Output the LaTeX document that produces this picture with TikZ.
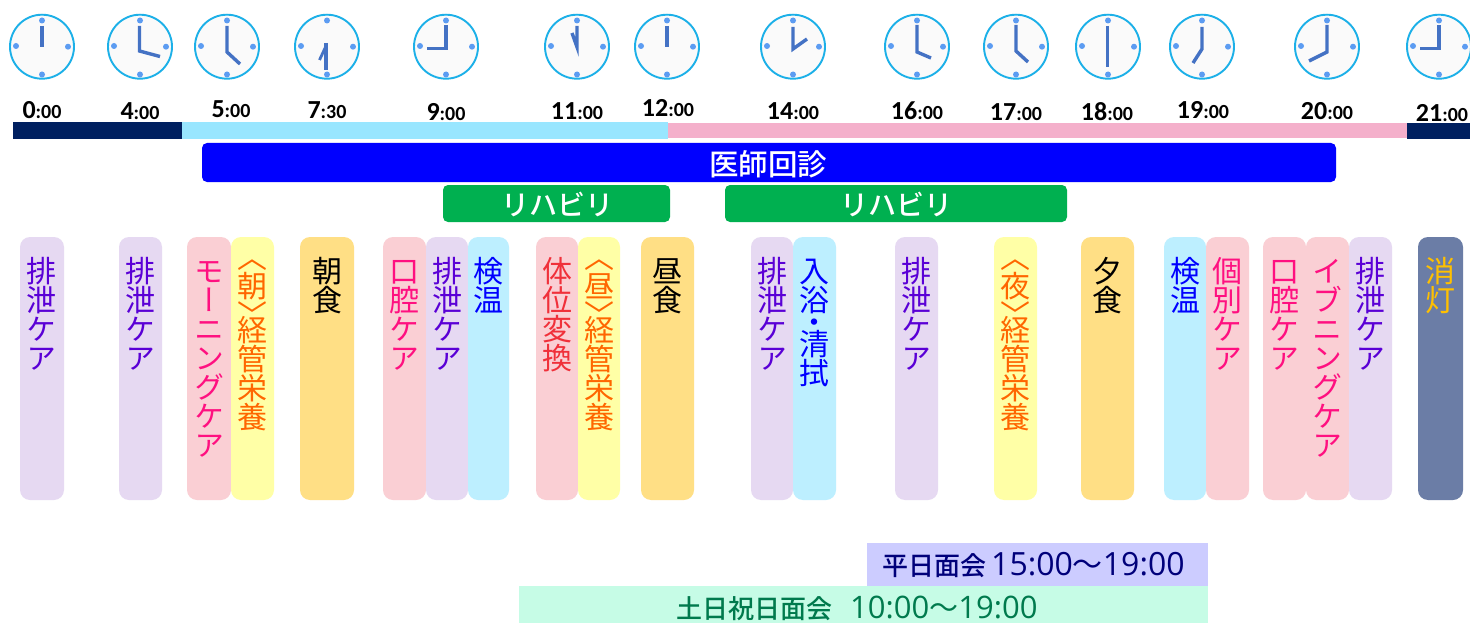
\documentclass[tikz,border=0pt]{standalone}
\usepackage{fontspec}
\setmainfont{Carlito}
\newfontfamily\jp{Noto Sans CJK JP}
\newfontfamily\jpv[RawFeature=+vert]{Noto Sans CJK JP}
\newfontfamily\jpm{Noto Sans CJK JP Medium}
\newfontfamily\dig{Open Sans}
\definecolor{ringc}{HTML}{1CB0E8}
\definecolor{dotc}{HTML}{5C9CF2}
\definecolor{handc}{HTML}{4472C4}
\definecolor{nightc}{HTML}{002060}
\definecolor{dayc}{HTML}{99E6FF}
\definecolor{evec}{HTML}{F4B0CB}
\definecolor{purbg}{HTML}{E6D9F2}
\definecolor{purtx}{HTML}{5A00D6}
\definecolor{pinkbg}{HTML}{FACFD4}
\definecolor{pinktx}{HTML}{FF1080}
\definecolor{yelbg}{HTML}{FFFFA6}
\definecolor{yeltx}{HTML}{FF6600}
\definecolor{orabg}{HTML}{FFDF85}
\definecolor{blubg}{HTML}{BDEFFF}
\definecolor{redtx}{HTML}{F0303A}
\definecolor{lampbg}{HTML}{6B7DA6}
\definecolor{lamptx}{HTML}{FFC000}
\definecolor{grn}{HTML}{00B050}
\definecolor{wkbg}{HTML}{CCCCFF}
\definecolor{wkbtx}{HTML}{00007A}
\definecolor{hobg}{HTML}{C6FCE6}
\definecolor{hotx}{HTML}{007A4D}
\tikzset{
 ring/.style={draw=ringc,line width=1.9pt,fill=black!2},
 hand/.style={draw=handc,line width=3.4pt},
 tlabel/.style={font=\bfseries,text=black,inner sep=0pt},
 bar/.style={inner sep=0pt,text=white},
 col/.style={rounded corners=10pt},
 coltext/.style={inner sep=0pt,anchor=north,align=center,font=\fontsize{30}{29}\jpv},
 visit/.style={inner sep=0pt,anchor=west}
}
\newcommand{\clockface}[1]{%
 \draw[ring] (#1,46.7) circle (32);
 \fill[dotc] (#1,20.5) circle (3) (#1,74.5) circle (3) (#1-26,46) circle (3) (#1+26,46.7) circle (3);
}
\newcommand{\clk}[7]{%
 \clockface{#1}
 \draw[hand,line join=miter] (#1+#2,#3) -- (#1+#4,#5) -- (#1+#6,#7);
}
\newcommand{\hm}[2]{{\fontsize{26}{26}\selectfont #1}{\fontsize{20}{20}\selectfont :#2}}
\newcommand{\colbox}[7]{%
 \fill[col,#4] (#2,237) rectangle (#3,500);
 \node[coltext,text=#5] (#1) at ({(#2+#3)/2},#6) {\rule{0pt}{26pt}#7};
}
\newcommand{\opn}{〈\\}
\newcommand{\cls}{〉\\[-14pt]}
\newcommand{\dotm}{\\[-7pt]・\\[-7pt]}
\begin{document}
\begin{tikzpicture}[x=1pt,y=-1pt]
\useasboundingbox (0,0) rectangle (1470,623);
\fill[white] (0,0) rectangle (1470,623);
% clocks
\clk{42}{0}{26}{0}{47}{0}{47}
\clk{140}{-0.5}{26}{-0.5}{51}{20}{56.5}
\clk{227}{0}{26}{0}{52}{13}{64}
\clockface{327}
\draw[hand] (326,43)--(326,70);
\draw[hand,line width=2.8pt] (326,46)--(319.5,60);
\clk{446}{0}{25}{0}{48.5}{-19}{48.5}
\clk{577}{0}{26}{0}{47}{-5}{33}
\clk{667}{0}{26}{0}{47}{0}{47}
\clk{793}{0}{27}{0}{49}{14}{39}
\clk{917}{0}{25}{0}{52}{14}{58}
\clk{1016}{0}{25}{0}{51}{12}{62}
\clk{1108}{-0.5}{26}{-0.5}{67}{-0.5}{67}
\clk{1202}{0}{27}{0}{49}{-9}{63}
\clk{1327}{0}{25}{0}{52}{-18}{61}
\clk{1439}{0}{25}{0}{48.5}{-19}{48.5}
% time labels
\node[tlabel] (t0) at (42,110) {\hm{0}{00}};
\node[tlabel] (t4) at (140,111) {\hm{4}{00}};
\node[tlabel] (t5) at (231,109) {\hm{5}{00}};
\node[tlabel] (t7) at (327,110) {\hm{7}{30}};
\node[tlabel] (t9) at (446,112) {\hm{9}{00}};
\node[tlabel] (t11) at (577,111) {\hm{11}{00}};
\node[tlabel] (t12) at (668,108) {\hm{12}{00}};
\node[tlabel] (t14) at (793,111) {\hm{14}{00}};
\node[tlabel] (t16) at (917,111) {\hm{16}{00}};
\node[tlabel] (t17) at (1016,112) {\hm{17}{00}};
\node[tlabel] (t18) at (1107,112) {\hm{18}{00}};
\node[tlabel] (t19) at (1203,110) {\hm{19}{00}};
\node[tlabel] (t20) at (1327,111) {\hm{20}{00}};
\node[tlabel] (t21) at (1442,113) {\hm{21}{00}};
% time band
\fill[nightc] (13,122) rectangle (182,139);
\fill[dayc] (182,122) rectangle (668,139);
\fill[evec] (668,123) rectangle (1407,138);
\fill[nightc] (1407,123) rectangle (1470,139);
% bars
\fill[blue,rounded corners=5pt] (202,143) rectangle (1336,182);
\node[bar] (round) at (768,164) {\fontsize{29.5}{29.5}\jpm 医師回診};
\fill[grn,rounded corners=5pt] (443,185) rectangle (670,222);
\node[bar] (reha1) at (557,204) {\fontsize{28}{28}\jpm リハビリ};
\fill[grn,rounded corners=5pt] (725,185) rectangle (1067,222);
\node[bar] (reha2) at (896,204) {\fontsize{28}{28}\jpm リハビリ};
% columns
\colbox{c1}{20}{64}{purbg}{purtx}{256}{排\\泄\\ケ\\ア}
\colbox{c2}{119}{162}{purbg}{purtx}{256}{排\\泄\\ケ\\ア}
\colbox{c3}{187}{231}{pinkbg}{pinktx}{256}{モ\\ー\\ニ\\ン\\グ\\ケ\\ア}
\colbox{c4}{231}{274}{yelbg}{yeltx}{242}{\opn 朝\\\cls 経\\管\\栄\\養}
\colbox{c5}{300}{354}{orabg}{black}{256}{朝\\食}
\colbox{c6}{383}{426}{pinkbg}{pinktx}{256}{口\\腔\\ケ\\ア}
\colbox{c7}{426}{468}{purbg}{purtx}{256}{排\\泄\\ケ\\ア}
\colbox{c8}{468}{509}{blubg}{blue}{256}{検\\温}
\colbox{c9}{536}{578}{pinkbg}{redtx}{256}{体\\位\\変\\換}
\colbox{c10}{578}{620}{yelbg}{yeltx}{242}{\opn 昼\\\cls 経\\管\\栄\\養}
\colbox{c11}{641}{694}{orabg}{black}{256}{昼\\食}
\colbox{c12}{751}{793}{purbg}{purtx}{256}{排\\泄\\ケ\\ア}
\colbox{c13}{793}{836}{blubg}{blue}{256}{入\\浴\dotm 清\\拭}
\colbox{c14}{895}{938}{purbg}{purtx}{256}{排\\泄\\ケ\\ア}
\colbox{c15}{994}{1037}{yelbg}{yeltx}{242}{\opn 夜\\\cls 経\\管\\栄\\養}
\colbox{c16}{1081}{1134}{orabg}{black}{256}{夕\\食}
\colbox{c17}{1164}{1206}{blubg}{blue}{256}{検\\温}
\colbox{c18}{1206}{1249}{pinkbg}{pinktx}{256}{個\\別\\ケ\\ア}
\colbox{c19}{1263}{1306}{pinkbg}{pinktx}{256}{口\\腔\\ケ\\ア}
\colbox{c20}{1306}{1349}{pinkbg}{pinktx}{256}{イ\\ブ\\ニ\\ン\\グ\\ケ\\ア}
\colbox{c21}{1349}{1392}{purbg}{purtx}{256}{排\\泄\\ケ\\ア}
\colbox{c22}{1418}{1463}{lampbg}{lamptx}{256}{消\\灯}
% visiting hours
\fill[wkbg] (867,543) rectangle (1208,586);
\fill[hobg] (519,586) rectangle (1208,623);
\node[visit,text=wkbtx] (wk) at (882,565) {\fontsize{26}{26}\jpm 平日面会\hspace{5pt}{\fontsize{32}{32}\dig 15:00}{\fontsize{30}{30}\jp 〜}{\fontsize{32}{32}\dig 19:00}};
\node[visit,text=hotx] (ho) at (676,608) {\fontsize{26}{26}\jpm 土日祝日面会\hspace{18pt}{\fontsize{31}{31}\dig 10:00}{\fontsize{29}{29}\jp 〜}{\fontsize{31}{31}\dig 19:00}};
\end{tikzpicture}
\end{document}
